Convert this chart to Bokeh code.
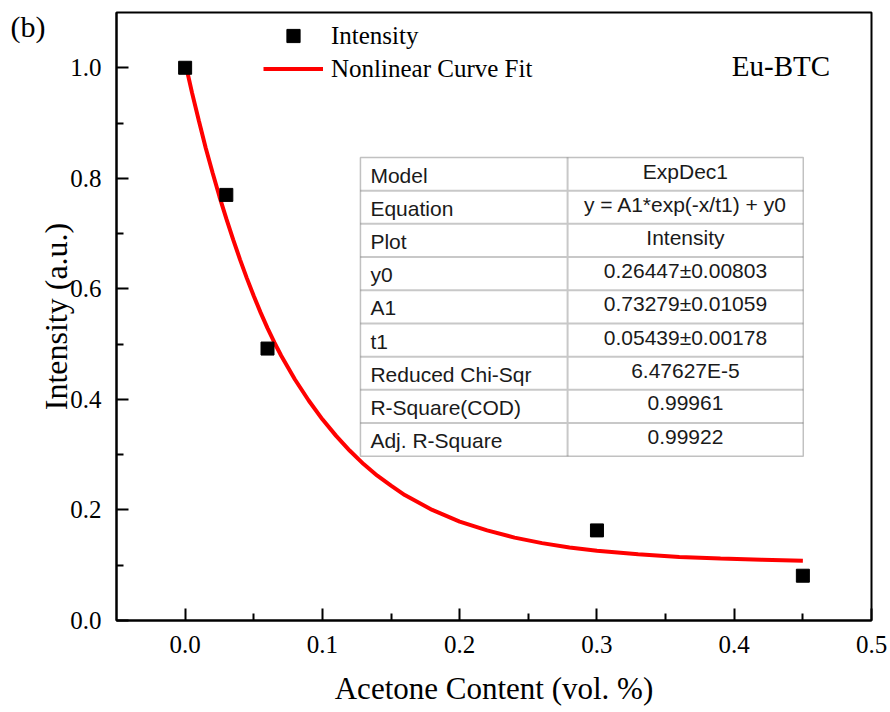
from bokeh.plotting import figure
from bokeh.models import Range1d, FixedTicker, Legend, LegendItem, Label, BoxAnnotation
from bokeh.core.properties import value
from bokeh.embed import file_html
from bokeh.resources import INLINE

# ---- data ----
conc = [0.0, 0.03, 0.06, 0.30, 0.45]
intensity = [1.0, 0.77, 0.492, 0.163, 0.081]

fit_x = [0.0, 0.005, 0.01, 0.015, 0.02, 0.025, 0.03, 0.035, 0.04, 0.045,
         0.05, 0.055, 0.06, 0.065, 0.07, 0.08, 0.09, 0.10, 0.11, 0.12,
         0.13, 0.14, 0.15, 0.16, 0.18, 0.20, 0.22, 0.24, 0.26, 0.28,
         0.30, 0.33, 0.36, 0.39, 0.42, 0.45]
fit_y = [1.010, 0.955, 0.904, 0.855, 0.810, 0.767, 0.727, 0.689, 0.653, 0.619,
         0.587, 0.557, 0.529, 0.503, 0.479, 0.436, 0.398, 0.364, 0.334, 0.307,
         0.283, 0.262, 0.244, 0.227, 0.200, 0.179, 0.163, 0.150, 0.140, 0.132,
         0.126, 0.120, 0.115, 0.112, 0.110, 0.108]

x_ticks = [0.0, 0.1, 0.2, 0.3, 0.4, 0.5]
x_minor = [0.05, 0.15, 0.25, 0.35, 0.45]
y_ticks = [0.0, 0.2, 0.4, 0.6, 0.8, 1.0]
y_minor = [0.1, 0.3, 0.5, 0.7, 0.9]
x_tick_labels = ["0.0", "0.1", "0.2", "0.3", "0.4", "0.5"]
y_tick_labels = ["0.0", "0.2", "0.4", "0.6", "0.8", "1.0"]

table_keys = ["Model", "Equation", "Plot", "y0", "A1", "t1",
              "Reduced Chi-Sqr", "R-Square(COD)", "Adj. R-Square"]
table_vals = ["ExpDec1", "y = A1*exp(-x/t1) + y0", "Intensity",
              "0.26447\u00b10.00803", "0.73279\u00b10.01059", "0.05439\u00b10.00178",
              "6.47627E-5", "0.99961", "0.99922"]

SERIF = "Liberation Serif"
SANS = "Liberation Sans"

p = figure(width=890, height=712,
           x_range=Range1d(-0.05, 0.5), y_range=Range1d(0, 1.1),
           output_backend="svg", toolbar_location=None,
           min_border_left=115, min_border_right=19,
           min_border_top=12, min_border_bottom=92)
p.xgrid.visible = False
p.ygrid.visible = False
p.outline_line_color = "black"
p.outline_line_width = 2
p.background_fill_color = "white"
p.border_fill_color = "white"

p.xaxis.ticker = FixedTicker(ticks=x_ticks, minor_ticks=x_minor)
p.yaxis.ticker = FixedTicker(ticks=y_ticks, minor_ticks=y_minor)
p.xaxis.major_label_overrides = {t: l for t, l in zip(x_ticks, x_tick_labels)}
p.yaxis.major_label_overrides = {t: l for t, l in zip(y_ticks, y_tick_labels)}

for ax in (p.xaxis[0], p.yaxis[0]):
    ax.axis_line_color = "black"
    ax.axis_line_width = 2
    ax.major_tick_in = 12
    ax.major_tick_out = 0
    ax.minor_tick_in = 7
    ax.minor_tick_out = 0
    ax.major_tick_line_width = 2
    ax.minor_tick_line_width = 2
    ax.major_tick_line_color = "black"
    ax.minor_tick_line_color = "black"
    ax.major_label_text_font = SERIF
    ax.major_label_text_font_size = "25px"
    ax.major_label_text_color = "black"
    ax.axis_label_text_font = SERIF
    ax.axis_label_text_font_style = "normal"
    ax.axis_label_text_color = "black"

p.xaxis.axis_label = "Acetone Content (vol. %)"
p.xaxis.axis_label_text_font_size = "31px"
p.xaxis.major_label_standoff = 15
p.xaxis.axis_label_standoff = 15
p.yaxis.axis_label = "Intensity (a.u.)"
p.yaxis.axis_label_text_font_size = "32px"
p.yaxis.major_label_standoff = 15
p.yaxis.axis_label_standoff = -7

# fit curve and data points
fit = p.line(fit_x, fit_y, line_color="#ff0000", line_width=4)
pts = p.scatter(conc, intensity, marker="square", size=13,
                fill_color="black", line_color="black")

legend = Legend(items=[LegendItem(label="Intensity", renderers=[pts]),
                       LegendItem(label="Nonlinear Curve Fit", renderers=[fit])],
                location=(147, 535), orientation="vertical",
                glyph_width=60, glyph_height=33, label_height=33,
                spacing=0, padding=0, margin=0, label_standoff=8,
                label_text_font=SERIF, label_text_font_size="25px",
                label_text_color="black",
                border_line_alpha=0, background_fill_alpha=0)
p.add_layout(legend)

# parameter table (layout in data coordinates)
tx0, tmid, tx1 = 0.1277, 0.2786, 0.4503
ttop, tbot = 0.8378, 0.2971
nrows = len(table_keys)
rh = (ttop - tbot) / nrows
row_lines = [ttop - i * rh for i in range(1, nrows)]
p.segment(x0=[tx0] * len(row_lines), x1=[tx1] * len(row_lines),
          y0=row_lines, y1=row_lines, line_color="#c8c8c8", line_width=2)
p.segment(x0=[tmid], x1=[tmid], y0=[tbot], y1=[ttop],
          line_color="#c8c8c8", line_width=2)
p.add_layout(BoxAnnotation(left=tx0, right=tx1, bottom=tbot, top=ttop,
                           fill_alpha=0, line_color="#333333", line_width=1.5))
centers = [ttop - (i + 0.5) * rh for i in range(nrows)]
p.text(x=[tx0] * nrows, y=centers, text=table_keys, x_offset=10, y_offset=1,
       text_font=value(SANS), text_font_size="21px", text_color="#1a1a1a",
       text_align="left", text_baseline="middle")
p.text(x=[(tmid + tx1) / 2] * nrows, y=centers, text=table_vals, y_offset=-3,
       text_font=value(SANS), text_font_size="21px", text_color="#1a1a1a",
       text_align="center", text_baseline="middle")

p.add_layout(Label(x=0.3982, y=1.0036, text="Eu-BTC", text_font=SERIF,
                   text_font_size="29px", text_color="black",
                   text_align="left", text_baseline="alphabetic"))
p.add_layout(Label(x=10, y=594, x_units="screen", y_units="screen",
                   text="(b)", text_font=SERIF,
                   text_font_size="30px", text_color="black",
                   text_align="left", text_baseline="alphabetic"), "left")

open("out.html", "w").write(file_html(p, INLINE))
